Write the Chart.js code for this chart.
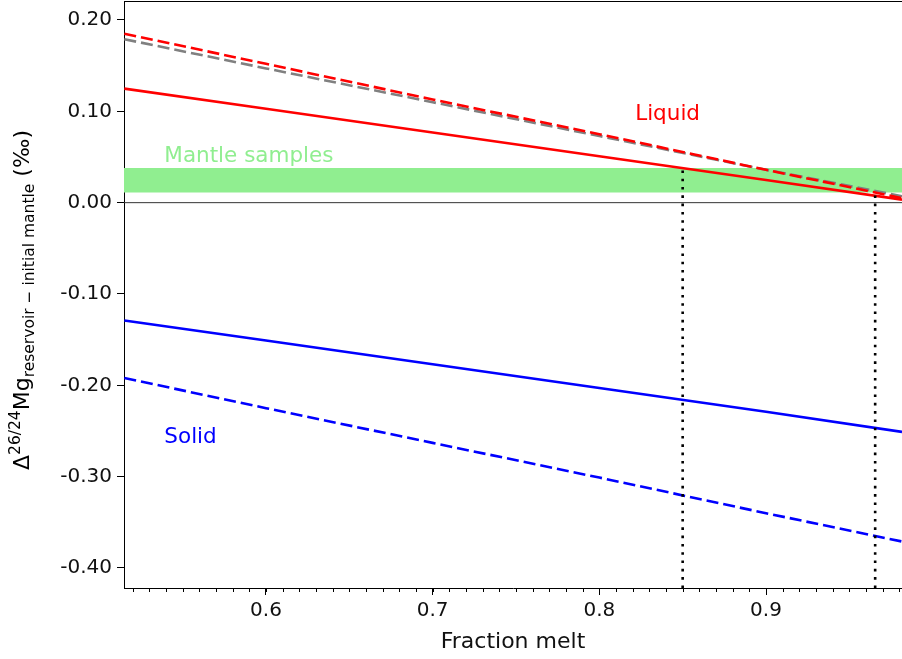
<!DOCTYPE html>
<html>
<head>
<meta charset="utf-8">
<script src="https://cdn.jsdelivr.net/npm/chart.js@4"></script>
<style>
  html, body { margin: 0; padding: 0; background: #fff; }
  #wrap { width: 902px; height: 659px; }
</style>
</head>
<body>
<div id="wrap"><canvas id="chart-melt"></canvas></div>
<script>
// Fraction melt sampled along the model curves
const meltFraction = [0.515, 0.6, 0.7, 0.8, 0.9, 0.9816];

// Liquid reservoir (solid and dashed model), reference model in grey
const liquidSolid = [0.1249, 0.1028, 0.0768, 0.0508, 0.0248, 0.0033];
const liquidDashed = [0.185, 0.152, 0.113, 0.075, 0.036, 0.005];
const referenceDashed = [0.179, 0.147, 0.110, 0.073, 0.036, 0.007];

// Solid reservoir
const solidSolid = [-0.129, -0.151, -0.177, -0.203, -0.229, -0.251];
const solidDashed = [-0.192, -0.225, -0.263, -0.301, -0.340, -0.371];

// Range of mantle samples
const mantleBand = [0.011, 0.038];

// Melt fractions where the liquid reaches the mantle range
const markerX = [0.85, 0.9655];
const markerTop = [0.0378, 0.0078];

const xRange = [0.5148, 0.9816];
const yRange = [-0.4219, 0.2208];
const xTicks = [0.6, 0.7, 0.8, 0.9];
const yTicks = [-0.4, -0.3, -0.2, -0.1, 0.0, 0.1, 0.2];

const FONT = 'DejaVu Sans';

const pts = ys => meltFraction.map((x, i) => ({ x, y: ys[i] }));

const line = (label, ys, color, dash, order) => ({
  label, data: pts(ys), borderColor: color, borderWidth: 2.6,
  borderDash: dash, pointRadius: 0, fill: false, tension: 0, order
});

const datasets = [
  {
    label: 'Mantle samples',
    data: [{ x: xRange[0], y: mantleBand[1] }, { x: xRange[1], y: mantleBand[1] }],
    borderWidth: 0, pointRadius: 0, backgroundColor: '#90ee90',
    fill: { value: mantleBand[0] }, order: 20
  },
  {
    label: 'zero',
    data: [{ x: xRange[0], y: 0 }, { x: xRange[1], y: 0 }],
    borderColor: '#333', borderWidth: 1, pointRadius: 0, fill: false, order: 19
  },
  line('Solid dashed', solidDashed, '#0000ff', [12, 5], 8),
  line('Solid', solidSolid, '#0000ff', [], 7),
  line('Reference', referenceDashed, '#808080', [12, 5], 6),
  line('Liquid dashed', liquidDashed, '#ff0000', [12, 5], 5),
  line('Liquid', liquidSolid, '#ff0000', [], 4)
];

markerX.forEach((x, i) => {
  datasets.push({
    label: 'marker' + i,
    data: [{ x, y: yRange[0] }, { x, y: markerTop[i] }],
    borderColor: '#000', borderWidth: 2.6, borderDash: [2.6, 5.7],
    pointRadius: 0, fill: false, order: 1
  });
});

// Frame, minor ticks, annotations and the y axis label
const decorations = {
  id: 'decorations',
  afterDraw(chart) {
    const { ctx, chartArea: a, scales: { x, y } } = chart;
    ctx.save();
    // top spine
    ctx.strokeStyle = '#000';
    ctx.lineWidth = 1;
    ctx.beginPath();
    ctx.moveTo(a.left, a.top + 0.5);
    ctx.lineTo(a.right, a.top + 0.5);
    ctx.stroke();

    // minor ticks every 0.01 on x
    for (let v = 0.52; v < xRange[1]; v += 0.01) {
      const px = Math.round(x.getPixelForValue(v)) + 0.5;
      ctx.beginPath();
      ctx.moveTo(px, a.bottom);
      ctx.lineTo(px, a.bottom + 4);
      ctx.stroke();
    }

    // annotations
    ctx.font = `21.5px "${FONT}"`;
    ctx.textBaseline = 'alphabetic';
    ctx.textAlign = 'left';
    ctx.fillStyle = '#90ee90';
    ctx.fillText('Mantle samples', x.getPixelForValue(0.539), y.getPixelForValue(0.045));
    ctx.fillStyle = '#ff0000';
    ctx.fillText('Liquid', x.getPixelForValue(0.8215), y.getPixelForValue(0.091));
    ctx.fillStyle = '#0000ff';
    ctx.fillText('Solid', x.getPixelForValue(0.539), y.getPixelForValue(-0.263));

    // y axis label: Δ^{26/24}Mg_{reservoir − initial mantle} (‰)
    const parts = [
      { t: 'Δ', size: 22, dy: 0 },
      { t: '26/24', size: 15.5, dy: -9 },
      { t: 'Mg', size: 22, dy: 0 },
      { t: 'reservoir − initial mantle', size: 15.5, dy: 5 },
      { t: ' (‰)', size: 22, dy: 0 }
    ];
    let total = 0;
    parts.forEach(p => {
      ctx.font = `${p.size}px "${FONT}"`;
      p.w = ctx.measureText(p.t).width;
      total += p.w;
    });
    ctx.translate(29, 300);
    ctx.rotate(-Math.PI / 2);
    ctx.fillStyle = '#000';
    let cx = -total / 2;
    parts.forEach(p => {
      ctx.font = `${p.size}px "${FONT}"`;
      ctx.fillText(p.t, cx, p.dy);
      cx += p.w;
    });
    ctx.restore();
  }
};

new Chart(document.getElementById('chart-melt'), {
  type: 'line',
  data: { datasets },
  plugins: [decorations],
  options: {
    responsive: true,
    maintainAspectRatio: false,
    animation: false,
    layout: { padding: { top: 1, right: 0, left: 0, bottom: 0 } },
    plugins: { legend: { display: false }, tooltip: { enabled: false } },
    scales: {
      x: {
        type: 'linear', min: xRange[0], max: xRange[1],
        afterBuildTicks: s => { s.ticks = xTicks.map(value => ({ value })); },
        afterFit: s => { s.height = 71; s.paddingLeft = 0; s.paddingRight = 0; },
        grid: { drawOnChartArea: false, drawTicks: true, tickLength: 7, color: '#000' },
        border: { display: true, color: '#000', width: 1 },
        ticks: { color: '#111', font: { family: FONT, size: 20 }, padding: 4, maxRotation: 0,
                 callback: v => v.toFixed(1) },
        title: { display: true, text: 'Fraction melt', color: '#111',
                 font: { family: FONT, size: 22 }, padding: { top: 6 } }
      },
      y: {
        type: 'linear', min: yRange[0], max: yRange[1],
        afterBuildTicks: s => { s.ticks = yTicks.map(value => ({ value })); },
        afterFit: s => { s.width = 124; s.paddingTop = 0; s.paddingBottom = 0; },
        grid: { drawOnChartArea: false, drawTicks: true, tickLength: 7, color: '#000' },
        border: { display: true, color: '#000', width: 1 },
        ticks: { color: '#111', font: { family: FONT, size: 20 }, padding: 5,
                 callback: v => v.toFixed(2) }
      }
    }
  }
});
</script>
</body>
</html>
